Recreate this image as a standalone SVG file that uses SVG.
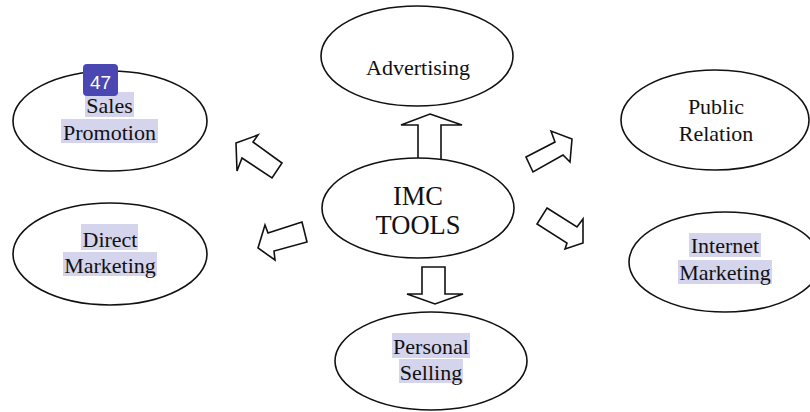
<svg xmlns="http://www.w3.org/2000/svg" width="810" height="412" viewBox="0 0 810 412">
<style>
.node ellipse{fill:#fff;stroke:#111;stroke-width:1.6}
.lbl{font-family:"Liberation Serif","Times New Roman",serif;font-size:22px;fill:#111;text-anchor:middle}
.big{font-size:26.5px}
.hl{fill:#d4d4ec}
.arr polygon{fill:#fff;stroke:#111;stroke-width:1.6;stroke-linejoin:miter}
.badge{fill:#4a47b2}
.badgetxt{font-family:"Liberation Sans",Arial,sans-serif;font-size:19px;fill:#fff;text-anchor:middle}
</style>
<rect width="810" height="412" fill="#fff"/>
<g id="connectors" class="arr">
<polygon points="430,114 462,125 441,125 441,160 418,160 418,125 401,125"/>
<polygon points="422,267 445,267 445,294 463,294 435,304 407,294 422,294"/>
<polygon points="236,143 258,135 253,142 282,163 272,178 242,158 237,171"/>
<polygon points="265,225 268,233 302,222 307,242 274,251 275,260 258,248"/>
<polygon points="526,157 555,142 551,131 572,139 570,162 563,155 533,172"/>
<polygon points="547,208 577,227 583,219 583,243 565,249 567,243 537,224"/>
</g>
<g id="advertising" class="node">
<ellipse cx="417" cy="56" rx="96" ry="50"/>
<text class="lbl" x="418" y="75">Advertising</text>
</g>
<g id="imc-tools" class="node">
<ellipse cx="418" cy="208" rx="96" ry="50"/>
<text class="lbl big" x="418" y="205">IMC</text>
<text class="lbl big" x="418" y="234">TOOLS</text>
</g>
<g id="sales-promotion" class="node">
<ellipse cx="110" cy="121" rx="97" ry="50"/>
<rect class="hl" x="85" y="92" width="49" height="25"/>
<rect class="hl" x="61" y="119" width="97" height="24"/>
<text class="lbl" x="109.5" y="113">Sales</text>
<text class="lbl" x="109.5" y="140">Promotion</text>
</g>
<g id="badge-47">
<rect class="badge" x="83" y="64" width="35" height="32" rx="4"/>
<text class="badgetxt" x="100.5" y="89">47</text>
</g>
<g id="direct-marketing" class="node">
<ellipse cx="110" cy="254" rx="97" ry="51"/>
<rect class="hl" x="81" y="224" width="57" height="26"/>
<rect class="hl" x="63" y="252" width="94" height="24"/>
<text class="lbl" x="110" y="246.5">Direct</text>
<text class="lbl" x="110" y="272.5">Marketing</text>
</g>
<g id="public-relation" class="node">
<ellipse cx="715" cy="120" rx="94" ry="50"/>
<text class="lbl" x="716" y="114">Public</text>
<text class="lbl" x="716" y="140.5">Relation</text>
</g>
<g id="internet-marketing" class="node">
<ellipse cx="725" cy="262" rx="96" ry="50"/>
<rect class="hl" x="689" y="233" width="72" height="24"/>
<rect class="hl" x="678" y="260" width="94" height="24"/>
<text class="lbl" x="725" y="253">Internet</text>
<text class="lbl" x="725" y="279.5">Marketing</text>
</g>
<g id="personal-selling" class="node">
<ellipse cx="431" cy="361" rx="96" ry="49"/>
<rect class="hl" x="392" y="333" width="78" height="25"/>
<rect class="hl" x="399" y="359" width="64" height="24"/>
<text class="lbl" x="431" y="353.5">Personal</text>
<text class="lbl" x="431" y="380">Selling</text>
</g>
</svg>
